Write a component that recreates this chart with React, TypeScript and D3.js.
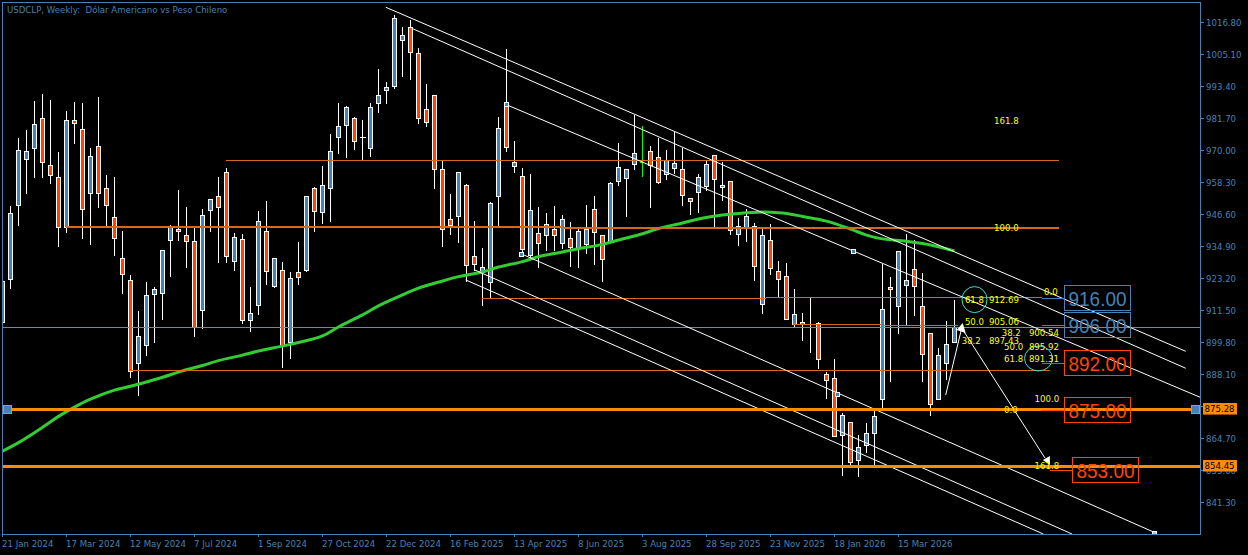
import React from "react";
import * as d3 from "d3";

const W = 1248, H = 555;
const STEEL = "#4682B4", RED = "#FF4500", CHOC = "#D2691E", ORANGE = "#FF8C00", GRAY = "#778899", YEL = "#FFFF00", TURQ = "#40E0D0", GREEN = "#32CD32";
const FONT = "'DejaVu Sans', sans-serif";

const opens = [907.1,922.8,949.9,966.7,970.7,981.7,964.5,960.1,941.8,981.0,
977.7,954.3,971.5,956.1,945.5,930.5,922.5,892.1,898.7,917.3,
917.7,937.1,941.1,938.9,936.7,911.5,948.0,953.2,961.9,929.4,
937.4,907.8,913.3,940.4,920.3,926.1,899.8,925.4,926.1,956.1,
947.3,956.1,974.7,979.1,981.7,974.7,970.7,987.2,991.9,993.4,
1010.2,1015.0,1005.5,985.0,990.1,963.0,944.8,945.9,957.2,931.2,
925.4,921.7,953.2,986.1,964.1,960.5,931.6,939.6,938.9,941.1,
936.0,937.8,934.2,935.6,948.4,938.9,936.4,958.7,959.8,964.9,
965.6,969.6,967.4,961.2,963.4,963.0,952.4,954.6,956.8,968.2,
956.5,958.7,939.3,941.8,942.2,913.7,937.1,925.8,923.9,906.4,
907.1,906.4,906.7,888.1,886.6,865.8,870.5,856.6,862.1,866.5,
878.9,919.9,913.0,920.6,926.5,913.0,903.1,878.9,892.1,899.8];
const closes = [922.1,947.0,970.0,969.6,979.5,965.6,960.8,941.8,981.0,979.9,
948.4,967.8,954.3,949.9,937.8,924.7,889.2,902.0,917.0,919.2,
933.4,941.8,940.4,936.7,905.3,946.2,952.1,949.2,931.2,938.2,
907.8,910.4,944.0,925.8,930.5,898.7,923.2,923.6,953.2,947.7,
957.2,969.6,978.8,985.7,973.3,974.7,985.7,990.1,993.0,1018.3,
1012.0,1005.8,981.7,980.2,963.0,941.1,942.6,961.9,928.0,928.3,
927.2,950.6,978.0,971.1,965.6,933.8,948.0,936.0,942.9,938.9,
944.8,934.5,940.4,941.1,940.0,930.1,957.9,963.8,963.0,968.9,
965.6,964.5,958.3,966.3,965.2,953.5,951.3,960.1,964.9,959.4,
957.2,940.7,942.2,945.9,927.6,938.9,926.8,922.8,908.2,910.0,
906.4,906.4,893.6,885.9,865.4,873.1,855.9,861.4,866.5,872.7,
911.9,919.2,933.1,922.5,920.3,895.4,877.1,895.0,899.1,905.3];
const highs = [922.1,949.9,974.7,977.7,988.3,990.8,988.6,969.6,984.6,987.9,
987.5,971.1,989.7,961.2,960.5,940.7,924.7,911.5,922.1,920.3,
933.4,942.9,955.7,949.5,941.8,948.8,952.4,960.5,963.8,940.0,
939.6,920.3,948.0,951.7,930.5,929.4,925.8,936.7,953.5,956.8,
964.5,976.2,987.5,986.4,982.4,981.3,987.5,1000.0,995.2,1019.7,
1015.3,1017.9,1007.7,994.5,990.1,966.3,954.3,961.9,957.9,944.4,
934.5,951.3,982.4,1007.3,973.6,963.8,961.6,949.5,947.3,949.9,
946.6,944.0,942.2,950.2,953.5,938.9,958.7,972.9,963.0,983.2,
979.1,971.8,974.7,970.4,976.9,971.1,952.8,961.6,966.3,968.2,
966.0,959.0,945.5,948.8,943.7,942.2,943.3,929.8,929.0,919.5,
910.8,916.6,907.5,889.2,893.9,874.2,870.5,866.2,870.5,874.9,
928.7,923.9,933.4,939.6,937.5,925.4,903.1,898.0,907.8,915.5];
const lows = [906.5,919.5,942.6,954.3,960.1,960.1,957.9,934.9,940.0,972.5,
937.8,935.6,949.2,942.6,931.6,917.7,887.0,880.4,895.0,899.8,
908.2,923.9,937.1,927.2,902.0,904.9,940.4,929.0,929.0,926.1,
906.7,903.8,910.0,921.0,919.9,890.7,893.9,921.0,925.8,940.4,
943.3,944.0,968.9,967.4,970.4,966.3,967.8,983.9,987.2,992.7,
997.0,996.0,979.9,978.8,956.1,934.9,939.3,936.4,922.1,926.1,
913.3,915.9,942.2,969.6,961.9,932.0,930.5,927.2,933.4,933.4,
934.2,927.6,927.2,932.3,928.3,922.1,936.4,957.2,945.9,963.0,
960.5,949.2,957.9,959.4,961.6,949.9,946.6,947.3,955.4,942.2,
951.7,939.3,935.3,936.7,922.5,910.4,924.7,916.2,908.2,905.6,
900.5,896.1,890.3,879.3,865.4,851.2,854.4,850.8,859.6,854.8,
875.7,885.5,903.1,906.0,909.7,885.5,873.1,878.9,886.3,899.8];
const limeBar = 80;

const maBars = [0,2,5,7,9,11,14,16,18,20,22,25,27,30,32,35,37,40,42,45,47,50,52,55,57,60,62,65,67,70,72,75,77,80,82,85,87,90,92,95,97,98,100,103,106,108,110,113,116,119];
const maValues = [859.9,863.0,868.6,872.6,876.0,878.9,882.2,883.6,885.2,886.9,888.8,891.2,893.0,895.0,896.5,898.3,899.6,902.0,905.3,909.7,913.0,917.0,919.5,922.1,923.7,925.4,927.2,929.2,931.0,932.7,933.9,935.5,937.1,939.4,941.3,943.3,944.8,946.2,946.8,947.3,947.1,946.8,945.7,944.0,941.1,938.9,937.5,936.6,935.3,933.1];

const yTicks = [1016.8,1005.1,993.4,981.7,970.0,958.3,946.6,934.9,923.2,911.5,899.8,888.1,876.4,864.7,853.0,841.3];
const xLabels = ["21 Jan 2024","17 Mar 2024","12 May 2024","7 Jul 2024","1 Sep 2024","27 Oct 2024","22 Dec 2024","16 Feb 2025","13 Apr 2025","8 Jun 2025","3 Aug 2025","28 Sep 2025","23 Nov 2025","18 Jan 2026","15 Mar 2026"];

// trend channels: [bar, price, bar, price]
const channels = [
  [47.9,1022.2,147.9,896.4],
  [51.15,1014.5,147.9,890.2],
  [63.2,986.3,149.7,879.6],
  [64.9,931.97,144.06,830.1],
  [59.06,926.1,133.7,829.6],
  [57.9,922.5,130.1,829.6],
];
// horizontal levels: [price, bar from, bar to, width]
const levels = [
  [966.2,27.9,132,1],
  [941.8,7.95,70.06,2],
  [941.5,70.06,132.1,2],
  [915.7,59.9,95.4,1],
  [916.1,95.4,129.9,1],
  [906.3,98.8,109.9,1],
  [905.9,109.9,119.4,1],
  [889.4,16,130.9,1],
];
const markers = [[63.0,987.0],[64.9,931.9],[106.4,933.1],[104.4,880.9]];
const endMarker = [144.06,830.1];
const zigBars = [117.9,119.9,130.3];
const zigPrices = [880.4,904.9,857.4];
const lastPrice = 905.2;
const hLines = [875.28,854.45];
const priceBoxes = [
  { value: 916, bar: 1, color: STEEL },
  { value: 906, bar: 1, color: STEEL },
  { value: 892, bar: 1, color: RED },
  { value: 875, bar: 1, color: RED },
  { value: 853, bar: 2, color: RED },
];
const fibLabels: [string, number, number][] = [
  ["161.8",123.95,980.6],["100.0",123.95,941.3],
  ["0.0",130.2,917.9],["61.8",120.3,915.0],["912.69",123.3,915.0],
  ["50.0",120.3,907.2],["905.06",123.3,907.2],
  ["38.2",119.9,900.0],["897.43",123.3,900.0],
  ["38.2",124.9,903.0],["900.54",128.3,903.0],
  ["50.0",125.2,898.1],["895.92",128.3,898.1],
  ["61.8",125.2,893.7],["891.31",128.3,893.7],
  ["100.0",129,878.8],["0.0",125.2,875.0],["161.8",129,854.4],
];
const ellipses = [[121.5,915.3,12.5,13],[129.5,893.8,14,12.5]];

const x = d3.scaleLinear().domain([0, 119]).range([2.5, 954.5]);
const y = d3.scaleLinear().domain([853, 1016.8]).range([470, 22]);
const py = (v: number) => Math.round(y(v)) + 0.5;

export default function App() {
  const ma = d3.line<number>().x((_, i) => x(maBars[i])).y((d) => y(d)).curve(d3.curveCatmullRom)(maValues) as string;
  const zig = d3.line<number>().x((d) => x(d)).y((_, i) => y(zigPrices[i]))(zigBars) as string;
  const tiny = { fontFamily: FONT, fontSize: 8.6 };
  return (
    <svg width={W} height={H} style={{ position: "fixed", left: 0, top: 0, background: "#000" }}>
      <defs>
        <clipPath id="plot"><rect x={3} y={3} width={1197.5} height={531} /></clipPath>
      </defs>
      <rect width={W} height={H} fill="#000" />
      <g clipPath="url(#plot)">
        <g shapeRendering="crispEdges">
          {opens.map((o, i) => {
            const c = closes[i];
            const cx = x(i);
            const wick = i === limeBar ? "#00FF00" : "#fff";
            const top = py(Math.max(o, c));
            const bot = py(Math.min(o, c));
            return (
              <g key={i}>
                <line x1={cx} x2={cx} y1={py(highs[i])} y2={py(lows[i])} stroke={wick} />
                {o === c ? (
                  <line x1={cx - 3} x2={cx + (i === limeBar ? 0 : 3)} y1={top} y2={top} stroke={wick} />
                ) : (
                  <rect x={cx - 2} y={top} width={4} height={bot - top} fill={c > o ? STEEL : RED} stroke="#fff" />
                )}
              </g>
            );
          })}
        </g>
        <line x1={3} x2={1200} y1={py(lastPrice)} y2={py(lastPrice)} stroke={GRAY} shapeRendering="crispEdges" />
        <path d={ma} fill="none" stroke={GREEN} strokeWidth={3} />
        {levels.map((l, i) => (
          <line key={i} x1={x(l[1])} x2={x(l[2])} y1={y(l[0])} y2={y(l[0])} stroke={CHOC} strokeWidth={l[3]} shapeRendering="crispEdges" />
        ))}
        {channels.map((c, i) => (
          <line key={i} x1={x(c[0])} y1={y(c[1])} x2={x(c[2])} y2={y(c[3])} stroke="#fff" strokeWidth={1} />
        ))}
        <path d={zig} fill="none" stroke="#fff" strokeWidth={1} />
        <polygon
          points={[[1, -5], [-5, 2], [4, 5]].map((p) => `${x(zigBars[1]) + p[0]},${y(zigPrices[1]) + p[1]}`).join(" ")}
          fill="#fff"
        />
        <polygon
          points={[[5, -2], [5, 7], [-2, 2]].map((p) => `${x(zigBars[2]) + p[0]},${y(zigPrices[2]) + p[1]}`).join(" ")}
          fill="#fff"
        />
        {hLines.map((v) => (
          <line key={v} x1={3} x2={1200} y1={y(v)} y2={y(v)} stroke={ORANGE} strokeWidth={3} shapeRendering="crispEdges" />
        ))}
        {markers.map((m, i) => (
          <rect key={i} x={x(m[0]) - 2} y={py(m[1]) - 2} width={4} height={4} fill={STEEL} stroke="#fff" shapeRendering="crispEdges" />
        ))}
        <rect x={x(endMarker[0]) - 2} y={py(endMarker[1]) - 2} width={4} height={4} fill="#B0C4DE" stroke="#fff" shapeRendering="crispEdges" />
        {ellipses.map((e, i) => (
          <ellipse key={i} cx={x(e[0])} cy={y(e[1])} rx={e[2]} ry={e[3]} fill="none" stroke={TURQ} strokeWidth={1} />
        ))}
        {fibLabels.map((f, i) => (
          <text key={i} x={x(f[1])} y={y(f[2]) + 3} fill={YEL} {...tiny}>{f[0]}</text>
        ))}
        {priceBoxes.map((b) => {
          const left = b.bar === 2 ? 1072.5 : 1064.5;
          const cy = y(b.value);
          return (
            <g key={b.value}>
              <line x1={left - 23} x2={left} y1={Math.round(cy) + 0.5} y2={Math.round(cy) + 0.5} stroke={b.color} shapeRendering="crispEdges" />
              <rect x={left} y={Math.round(cy) - 12.5} width={66} height={25} fill="none" stroke={b.color} shapeRendering="crispEdges" />
              <text x={left + 33} y={cy + 8} textAnchor="middle" fill={b.color} fontFamily="'Liberation Sans', sans-serif" fontSize={21} textLength={58} lengthAdjust="spacingAndGlyphs">
                {d3.format(".2f")(b.value)}
              </text>
            </g>
          );
        })}
        <rect x={3.5} y={405.5} width={8} height={8} fill={STEEL} stroke={ORANGE} shapeRendering="crispEdges" />
        <rect x={1191.5} y={405.5} width={8} height={8} fill={STEEL} stroke={ORANGE} shapeRendering="crispEdges" />
      </g>

      <rect x={2.5} y={2.5} width={1198} height={531.5} fill="none" stroke={STEEL} shapeRendering="crispEdges" />
      {yTicks.map((v) => (
        <g key={v}>
          <line x1={1201} x2={1204} y1={py(v)} y2={py(v)} stroke={STEEL} shapeRendering="crispEdges" />
          <text x={1206} y={y(v) + 3.5} fill={STEEL} {...tiny}>{d3.format(".2f")(v)}</text>
        </g>
      ))}
      {xLabels.map((t, i) => (
        <g key={t}>
          <line x1={x(i * 8)} x2={x(i * 8)} y1={534} y2={537} stroke={STEEL} shapeRendering="crispEdges" />
          <text x={x(i * 8) - 0.5} y={547} fill={STEEL} {...tiny}>{t}</text>
        </g>
      ))}
      {hLines.map((v) => (
        <g key={v}>
          <rect x={1203} y={y(v) - 6} width={34} height={11.5} fill={ORANGE} />
          <text x={1204.5} y={y(v) + 3} fill="#000" {...tiny}>{d3.format(".2f")(v)}</text>
        </g>
      ))}
      <text x={7} y={12.5} fill={STEEL} {...tiny} xmlSpace="preserve">USDCLP, Weekly:  Dólar Americano vs Peso Chileno</text>
    </svg>
  );
}
